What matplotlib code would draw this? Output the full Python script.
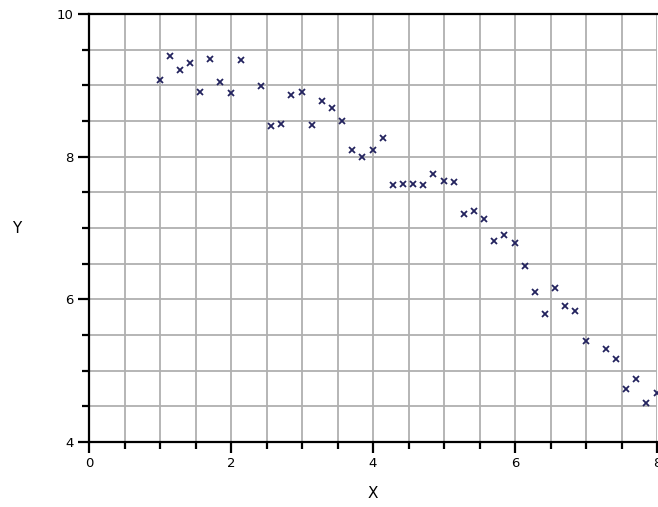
import numpy as np
import matplotlib
matplotlib.use("Agg")
import matplotlib.pyplot as plt
from matplotlib.ticker import MultipleLocator

# values
x = [1.0, 1.14, 1.28, 1.42, 1.56, 1.71, 1.85, 2.0, 2.14, 2.42,
     2.56, 2.71, 2.85, 3.0, 3.14, 3.28, 3.42, 3.57, 3.71, 3.85,
     4.0, 4.14, 4.28, 4.42, 4.57, 4.71, 4.85, 5.0, 5.14, 5.28,
     5.42, 5.57, 5.71, 5.85, 6.0, 6.14, 6.28, 6.42, 6.57, 6.71,
     6.85, 7.0, 7.28, 7.42, 7.57, 7.71, 7.85, 8.0]
y = [9.07, 9.41, 9.21, 9.31, 8.91, 9.37, 9.05, 8.89, 9.35, 8.99,
     8.43, 8.46, 8.86, 8.91, 8.44, 8.78, 8.68, 8.50, 8.10, 8.00,
     8.09, 8.26, 7.60, 7.62, 7.61, 7.60, 7.75, 7.66, 7.64, 7.20,
     7.24, 7.13, 6.82, 6.90, 6.79, 6.47, 6.10, 5.80, 6.16, 5.91,
     5.83, 5.41, 5.30, 5.17, 4.74, 4.88, 4.54, 4.68]
x_ticks = [0, 2, 4, 6, 8]
y_ticks = [4, 6, 8, 10]

fig = plt.figure(figsize=(6.58, 5.07), dpi=100)
ax = fig.add_axes([0.1353, 0.1282, 0.8632, 0.8442])

ax.set_xlim(0, 8)
ax.set_ylim(4, 10)
ax.set_xticks(x_ticks)
ax.set_yticks(y_ticks)
ax.xaxis.set_minor_locator(MultipleLocator(0.5))
ax.yaxis.set_minor_locator(MultipleLocator(0.5))

ax.grid(True, which="both", color="#b0b0b0", linewidth=1.3)
ax.set_axisbelow(True)

ax.plot(x, y, linestyle="none", marker="x", markersize=5,
        markeredgewidth=1.3, color="#23235e", clip_on=False, zorder=3)

for side in ["left", "bottom", "top"]:
    ax.spines[side].set_linewidth(1.6)
    ax.spines[side].set_color("black")
ax.spines["right"].set_visible(False)

ax.tick_params(which="major", direction="out", length=8, width=1.6,
               labelsize=9.5, pad=3)
ax.tick_params(which="minor", direction="out", length=5, width=1.6)

ax.set_xlabel("X", fontsize=11, va="center")
ax.set_ylabel("Y", fontsize=11, rotation=0, ha="center", va="center")
ax.xaxis.set_label_coords(0.5, -0.121)
ax.yaxis.set_label_coords(-0.127, 0.498)

fig.savefig("out.png", dpi=100)
